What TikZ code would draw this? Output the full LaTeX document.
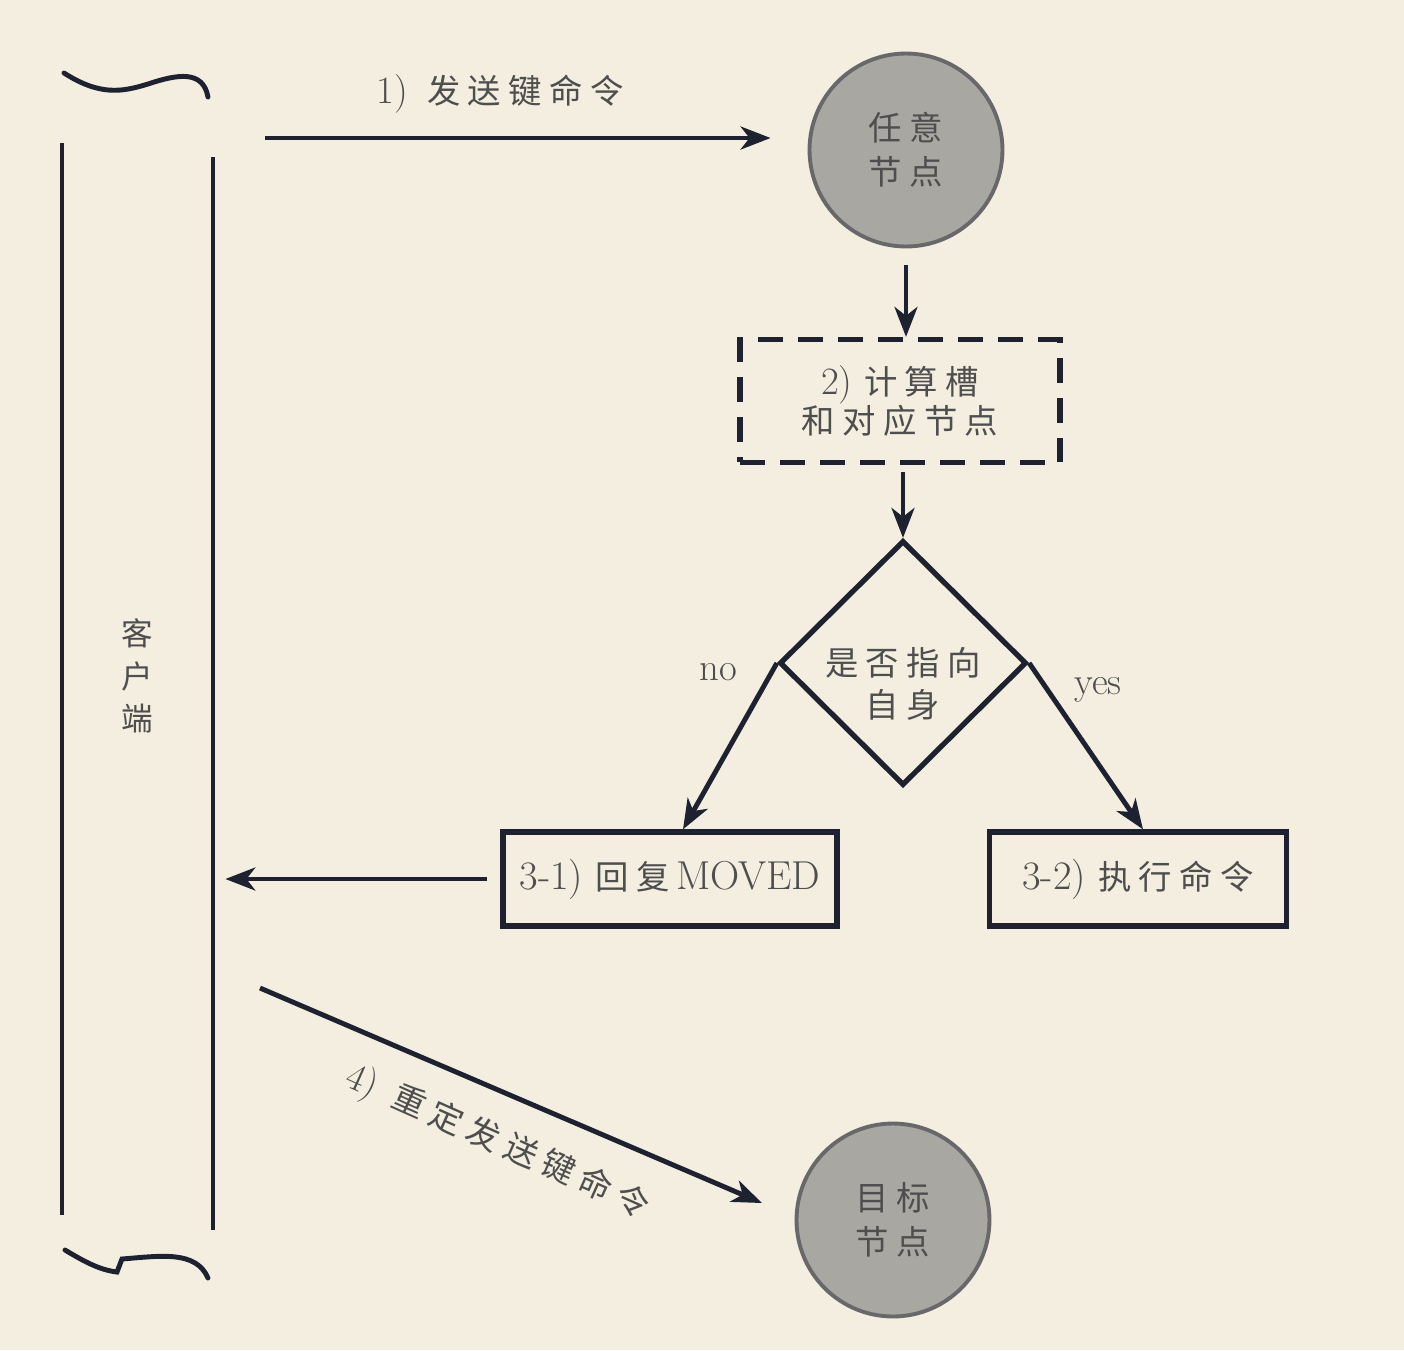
\documentclass[tikz,border=0pt]{standalone}
\usepackage{fontspec}
\newfontfamily\cjk[LetterSpace=22]{Noto Sans CJK SC}
\newcommand\zhtext[1]{{\cjk\fontsize{19}{24}\selectfont #1}}
\usetikzlibrary{arrows.meta,shapes.geometric,calc}
\definecolor{bg}{HTML}{F3EEE0}
\definecolor{ink}{HTML}{1E2130}
\definecolor{txt}{HTML}{4E4E4E}
\definecolor{nodefill}{HTML}{A8A7A2}
\definecolor{nodeline}{HTML}{68686B}
\begin{document}
\begin{tikzpicture}[x=0.02cm,y=-0.02cm,
  line/.style={draw=ink, line width=2.8pt},
  arr/.style={line, -{Stealth[length=17pt,width=13pt,inset=5pt]}},
  lbl/.style={text=txt, inner sep=0pt, font=\fontsize{22}{24}\selectfont},
  circ/.style={circle, fill=nodefill, draw=nodeline, line width=2.2pt, minimum size=3.86cm, inner sep=0pt, text=txt, align=center, font=\cjk\fontsize{19}{25}\selectfont},
  dashbox/.style={draw=ink, line width=3pt, dash pattern=on 0.5cm off 0.3cm, minimum width=6.4cm, minimum height=2.46cm, inner sep=0pt, text=txt, align=center, font=\fontsize{22}{22}\selectfont},
  decide/.style={diamond, draw=ink, line width=3pt, minimum width=4.94cm, minimum height=4.9cm, inner sep=0pt},
  dectext/.style={text=txt, align=center, inner sep=0pt, font=\cjk\fontsize{19}{24}\selectfont},
  sbox/.style={draw=ink, line width=3pt, minimum height=1.88cm, inner sep=0pt, text=txt, font=\fontsize{23}{24}\selectfont},
  clientbox/.style={minimum width=3.02cm, minimum height=24.04cm, inner sep=0pt, text=txt, align=center, font=\cjk\fontsize{18}{24}\selectfont}
]
\fill[bg] (0,0) rectangle (1404,1350);
\useasboundingbox (0,0) rectangle (1404,1350);

% client
\node[clientbox] (client) at (137.5,676) {客\\户\\端};
\draw[line] (62,143) -- (62,1215);
\draw[line] (213,157) -- (213,1230);
\draw[line, line cap=round] (64,73) .. controls (100,96) and (122,92) .. (148,84) .. controls (178,74) and (203,70) .. (208,97);
\draw[line, line cap=round] (65,1250) .. controls (85,1262) and (100,1270) .. (117,1272) -- (122,1259) .. controls (160,1256) and (196,1250) .. (208,1278);

% nodes
\node[circ] (c1) at (906,150) {任意\\节点};
\node[dashbox] (calc) at (900,401) {2)\ \zhtext{计算槽}\\\zhtext{和对应节点}};
\node[decide, label={[dectext, yshift=-0.42cm]center:是否指向\\自身}] (dec) at (903,663) {};
\node[sbox, minimum width=6.68cm] (b31) at (670,879) {3-1)\ \zhtext{回复}\,MOVED};
\node[sbox, minimum width=5.94cm] (b32) at (1138,879) {3-2)\ \zhtext{执行命令}};
\node[circ] (c2) at (893,1220) {目标\\节点};

% labels
\node[lbl] (l1) at (500,94) {1)\enspace\zhtext{发送键命令}};
\node[lbl] (lno) at (718,672) {no};
\node[lbl] (lyes) at (1098,690) {yes};
\node[lbl, rotate=-24] (l4) at (497,1143) {4)\enspace\zhtext{重定发送键命令}};

% connectors
\coordinate (a1s) at (265,138);
\draw[arr, shorten >=0.74cm] (a1s) -- (a1s -| c1.west);
\draw[arr, shorten <=0.34cm] (c1.south) -- (c1.south |- calc.north);
\draw[arr, shorten <=0.14cm] (calc.south -| dec.north) -- (dec.north);
\draw[arr] (dec.west) -- ([xshift=0.26cm]b31.north);
\draw[arr] (dec.east) -- ([xshift=0.1cm]b32.north);
\draw[arr, shorten <=0.26cm, shorten >=0.24cm] (b31.west) -- (b31.west -| client.east);
\coordinate (a4s) at (260,988);
\coordinate (a4e) at (762,1203);
\draw[arr] (a4s) -- (a4e);
\end{tikzpicture}
\end{document}
